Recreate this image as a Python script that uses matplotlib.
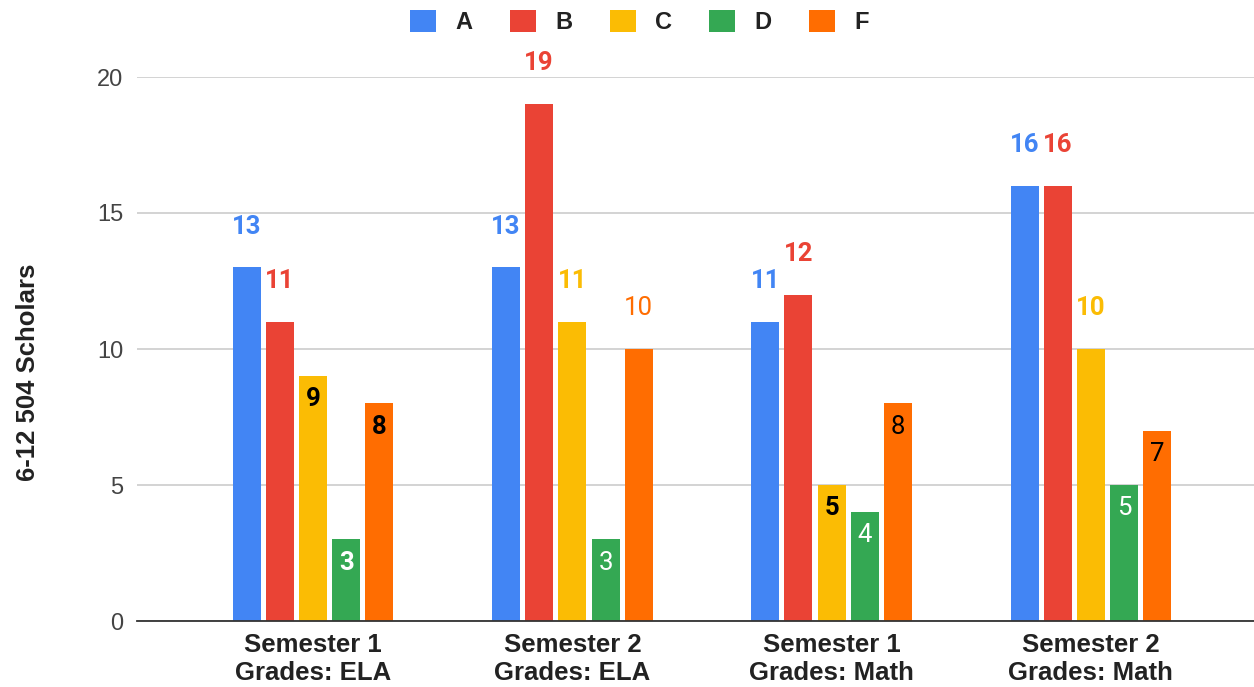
import matplotlib
matplotlib.use("Agg")
import matplotlib.pyplot as plt
from matplotlib.patches import Patch
import numpy as np

plt.rcParams['font.family'] = ['Liberation Sans', 'DejaVu Sans']

categories = ["Semester 1\nGrades: ELA", "Semester 2\nGrades: ELA",
              "Semester 1\nGrades: Math", "Semester 2\nGrades: Math"]
series = ["A", "B", "C", "D", "F"]
values = {
    "A": [13, 13, 11, 16],
    "B": [11, 19, 12, 16],
    "C": [9, 11, 5, 10],
    "D": [3, 3, 4, 5],
    "F": [8, 10, 8, 7],
}
colors = {"A": "#4285F4", "B": "#EA4335", "C": "#FBBC04", "D": "#34A853", "F": "#FF6D01"}
# label placement per bar: 'out' above bar in series colour, 'in' inside bar
label_pos = {
    "A": ["out", "out", "out", "out"],
    "B": ["out", "out", "out", "out"],
    "C": ["in", "out", "in", "out"],
    "D": ["in", "in", "in", "in"],
    "F": ["in", "out", "in", "in"],
}
label_bold = {
    "A": [True, True, True, True],
    "B": [True, True, True, True],
    "C": [True, True, True, True],
    "D": [True, False, False, False],
    "F": [True, False, False, False],
}
inside_color = {"C": "black", "D": "white", "F": "black"}

fig = plt.figure(figsize=(12.54, 6.87), dpi=100)
ax = fig.add_axes([137/1254, 1-621/687, 1117/1254, 544/687])

x = np.arange(len(categories))
pitch = 0.128
width = 0.108
label_font = ['Roboto', 'DejaVu Sans']
for i, s in enumerate(series):
    xs = x + (i - 2) * pitch
    vals = values[s]
    ax.bar(xs, vals, width=width, color=colors[s], zorder=3)
    for xi, v, pos, b in zip(xs, vals, label_pos[s], label_bold[s]):
        if pos == "out":
            ax.text(xi, v + 1.5, str(v), ha="center", va="center", fontsize=18.5,
                    family=label_font, fontweight="bold" if b else "normal",
                    color=colors[s], zorder=4)
        else:
            ax.text(xi, v - 0.85, str(v), ha="center", va="center", fontsize=18.5,
                    family=label_font, fontweight="bold" if b else "normal",
                    color=inside_color[s], zorder=4)

ax.set_xlim(-0.679, 3.629)
ax.set_ylim(0, 20)
ax.set_yticks([0, 5, 10, 15, 20])
ax.set_xticks(x)
ax.set_xticklabels(categories, fontsize=18.5, fontweight="bold", color="#222222", linespacing=1.2)
ax.tick_params(axis="y", length=0, pad=10, labelsize=17, labelcolor="#444444")
ax.tick_params(axis="x", length=0, pad=9)
ax.grid(axis="y", color="#cccccc", linewidth=1.2, zorder=0)
for sp in ["top", "right", "left"]:
    ax.spines[sp].set_visible(False)
ax.spines["bottom"].set_color("#333333")
ax.spines["bottom"].set_linewidth(1.3)
ax.spines["bottom"].set_zorder(5)

ax.set_ylabel("6-12 504 Scholars", fontsize=18.5, fontweight="bold", color="#222222")
ax.yaxis.set_label_coords(-0.087, 0.457)

handles = [Patch(facecolor=colors[s], edgecolor="none") for s in series]
leg = fig.legend(handles, series, loc="center", bbox_to_anchor=(0.51, 1-22/687), ncol=5,
                 frameon=False, handlelength=1.1, handleheight=1.1, handletextpad=0.8,
                 columnspacing=1.6, prop={"size": 17, "weight": "bold"})
for t in leg.get_texts():
    t.set_color("#222222")

fig.savefig("out.png", dpi=100)
